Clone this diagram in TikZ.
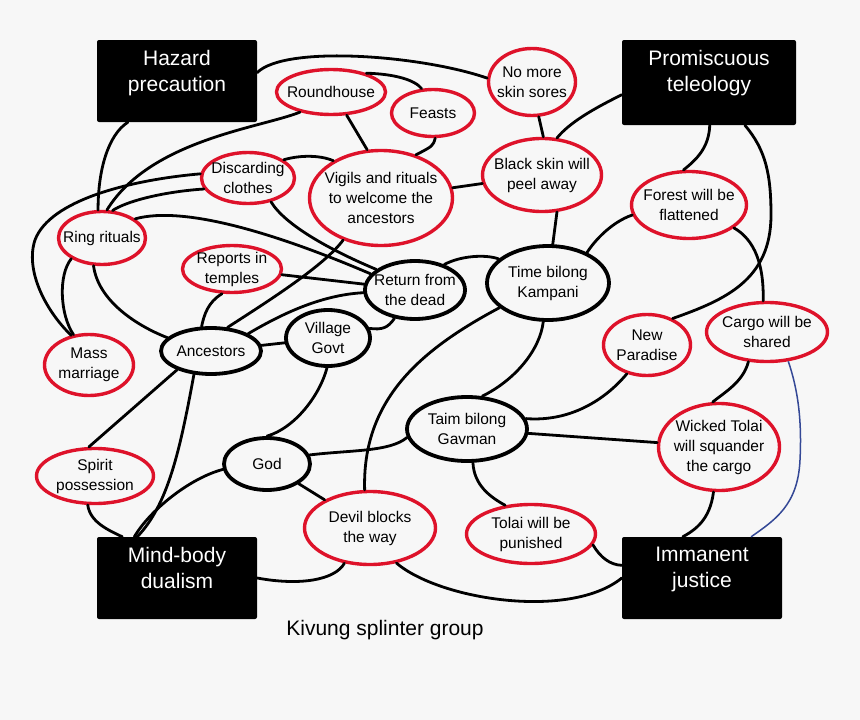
\documentclass[tikz,border=0pt]{standalone}
\usepackage{fontspec}
\setmainfont{Liberation Sans}
\usetikzlibrary{shapes.geometric}
\definecolor{ringred}{RGB}{222,18,42}
\definecolor{bluelink}{RGB}{52,72,150}
\definecolor{paper}{RGB}{247,247,247}
\tikzset{
    conn/.style={line width=2.8pt,line cap=round},
    dims/.style 2 args={minimum width=#1pt,minimum height=#2pt},
    belief/.style={ellipse,draw=ringred,line width=3.4pt,inner xsep=-8pt,inner ysep=-3pt,
        align=center,font=\fontsize{15.5}{20}\selectfont},
    phase/.style={belief,draw=black,line width=3.8pt},
    theme/.style={rectangle,fill=black,rounded corners=2pt,inner sep=0pt},
    themetext/.style={anchor=north,yshift=-10pt,inner sep=0pt,align=center,text=white,
        font=\fontsize{21}{26}\selectfont}
}
\begin{document}
\begin{tikzpicture}[x=1pt,y=-1pt]
                \fill[paper] (0,0) rectangle (860,720);
                \useasboundingbox (0,0) rectangle (860,720);
                \node[theme,dims={160}{82}] (haz) at (177,81) {};
                \node[themetext] (hazt) at (haz.north) {Hazard\\precaution};
                \node[theme,dims={174}{85}] (prom) at (709,82.5) {};
                \node[themetext] (promt) at (prom.north) {Promiscuous\\teleology};
                \node[theme,dims={160}{82}] (mind) at (177,578) {};
                \node[themetext] (mindt) at (mind.north) {Mind-body\\dualism};
                \node[theme,dims={160}{82}] (imm) at (702,578) {};
                \node[themetext] (immt) at (imm.north) {Immanent\\justice};
                \node[belief,dims={109}{45}] (rnd) at (331,92) {Roundhouse};
                \node[belief,dims={83}{47}] (fea) at (433,113) {Feasts};
                \node[belief,dims={87}{67}] (skin) at (532,82) {No more\\skin sores};
                \node[belief,dims={93}{51}] (disc) at (248,178) {Discarding\\clothes};
                \node[belief,dims={143}{95}] (vig) at (381,198) {Vigils and rituals\\to welcome the\\ancestors};
                \node[belief,dims={119}{73}] (peel) at (542,175) {Black skin will\\peel away};
                \node[belief,dims={115}{67}] (forest) at (689,205) {Forest will be\\flattened};
                \node[belief,dims={87}{53}] (ring) at (102,238) {Ring rituals};
                \node[belief,dims={99}{47}] (rep) at (232,269) {Reports in\\temples};
                \node[belief,dims={89}{61}] (mass) at (89,365) {Mass\\marriage};
                \node[belief,dims={87}{61}] (newp) at (647,345) {New\\Paradise};
                \node[belief,dims={121}{59}] (cargo) at (767,332) {Cargo will be\\shared};
                \node[belief,dims={121}{87}] (wick) at (719,447) {Wicked Tolai\\will squander\\the cargo};
                \node[belief,dims={117}{55}] (spirit) at (95,476) {Spirit\\possession};
                \node[belief,dims={131}{73}] (devil) at (370,528) {Devil blocks\\the way};
                \node[belief,dims={129}{59}] (tolai) at (531,534) {Tolai will be\\punished};
                \node[phase,dims={100}{58}] (ret) at (415,290) {Return from\\the dead};
                \node[phase,dims={122}{74}] (kamp) at (548,283) {Time bilong\\Kampani};
                \node[phase,dims={100}{46}] (anc) at (211,351) {Ancestors};
                \node[phase,dims={84}{56}] (vil) at (328,338) {Village\\Govt};
                \node[phase,dims={86}{52}] (god) at (267,464) {God};
                \node[phase,dims={120}{64}] (gav) at (467,429) {Taim bilong\\Gavman};
                \node[font=\fontsize{21}{26}\selectfont] (kiv) at (385,630) {Kivung splinter group};
                \draw[conn] (haz.6) .. controls (285,45) and (420,55) .. (skin.175);
                \draw[conn] (rnd.28) .. controls (395,74) and (415,80) .. (fea.115);
                \draw[conn] (rnd.-56) -- (vig.106);
                \draw[conn] (fea.-85) .. controls (433,146) .. (vig.51);
                \draw[conn] (skin.-79) -- (peel.88);
                \draw[conn] (prom.-172) .. controls (595,108) and (570,122) .. (peel.68);
                \draw[conn] (vig) -- (peel);
                \draw[conn] (peel.-68) -- (kamp.83);
                \draw[conn] (prom.-89) .. controls (709,148) and (696,160) .. (forest.99);
                \draw[conn] (prom.-50) .. controls (766,150) and (771,175) .. (771,215)
                    .. controls (771,280) and (725,300) .. (newp.46);
                \draw[conn] (forest.-27) .. controls (755,240) and (764,265) .. (cargo.97);
                \draw[conn] (forest.-170) .. controls (612,222) and (595,240) .. (kamp.38);
                \draw[conn] (ret.41) .. controls (460,256) and (485,254) .. (kamp.154);
                \draw[conn] (kamp.-153) .. controls (420,350) and (362,400) .. (devil.98);
                \draw[conn] (kamp.-97) .. controls (540,350) and (515,380) .. (gav.65);
                \draw[conn] (newp.-125) .. controls (605,400) and (570,422) .. (gav.10);
                \draw[conn] (gav) -- (wick);
                \draw[conn] (cargo.-122) .. controls (743,382) and (725,392) .. (wick.98);
                \draw[bluelink,line width=1.5pt] (cargo.-54) .. controls (798,390) and (802,420) .. (800,460)
                    .. controls (798,505) and (775,520) .. (imm.40);
                \draw[conn] (wick.-97) .. controls (710,520) and (695,530) .. (imm.115);
                \draw[conn] (gav.-80) .. controls (474,485) and (490,497) .. (tolai.132);
                \draw[conn] (tolai.-10) .. controls (600,557) and (610,565) .. (imm.171);
                \draw[conn] (devil.-53) .. controls (440,600) and (570,620) .. (imm.west);
                \draw[conn] (mind.east) .. controls (300,586) and (335,580) .. (devil.-126);
                \draw[conn] (god) -- (devil);
                \draw[conn] (god.12) .. controls (350,450) and (390,452) .. (gav.-172);
                \draw[conn] (god.-173) .. controls (190,478) and (150,510) .. (mind.136);
                \draw[conn] (anc.-126) .. controls (180,450) and (168,505) .. (mind.134);
                \draw[conn] (spirit.-104) .. controls (90,522) and (108,530) .. (mind.143);
                \draw[conn] (anc.-151) -- (spirit.102);
                \draw[conn] (vil.-92) .. controls (320,395) and (295,428) .. (god.90);
                \draw[conn] (vil) -- (anc);
                \draw[conn] (vil.13) .. controls (382,330) and (388,328) .. (ret.-126);
                \draw[conn] (anc.25) .. controls (280,315) and (320,295) .. (ret.-177);
                \draw[conn] (anc.55) .. controls (270,300) and (325,265) .. (vig.-132);
                \draw[conn] (rep.-112) .. controls (208,302) and (204,315) .. (anc.111);
                \draw[conn] (rep) -- (ret);
                \draw[conn] (ring.30) .. controls (185,205) and (280,235) .. (ret.160);
                \draw[conn] (disc.-46) .. controls (285,225) and (330,250) .. (ret.152);
                \draw[conn] (disc.175) .. controls (130,180) and (50,200) .. (35,240)
                    .. controls (25,270) and (45,310) .. (mass.121);
                \draw[conn] (disc.-166) .. controls (160,192) and (125,202) .. (ring.69);
                \draw[conn] (rnd.-147) .. controls (260,128) and (150,140) .. (ring.80);
                \draw[conn] (haz.-140) .. controls (108,135) and (98,170) .. (ring.98);
                \draw[conn] (ring.-107) .. controls (98,300) and (135,325) .. (anc.163);
                \draw[conn] (ring.-146) .. controls (58,275) and (60,315) .. (mass.117);
                \draw[conn] (disc.27) .. controls (300,155) and (320,155) .. (vig.142);
            \end{tikzpicture}
\end{document}
